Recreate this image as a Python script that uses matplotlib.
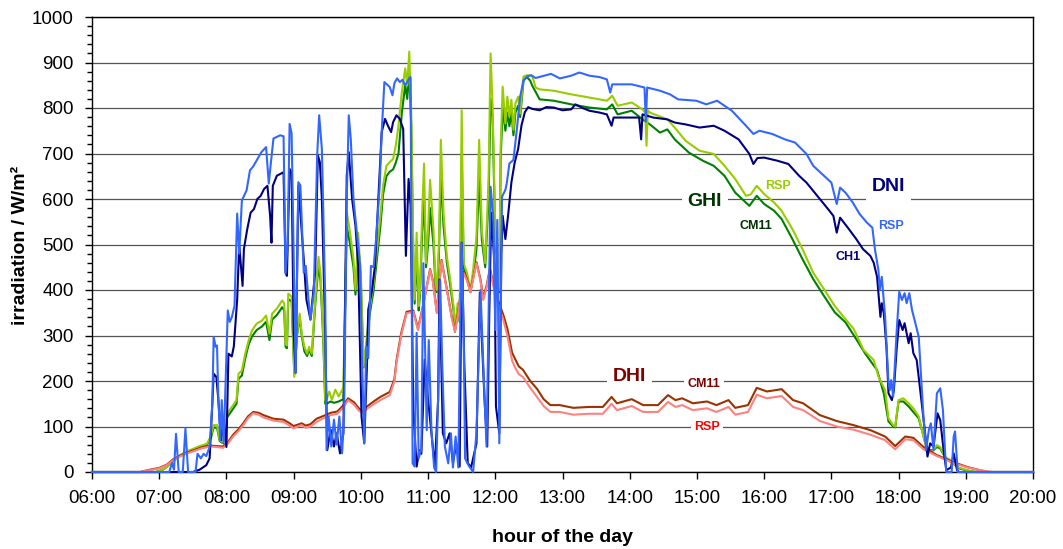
import matplotlib
matplotlib.use("Agg")
import matplotlib.pyplot as plt
from matplotlib.ticker import MultipleLocator

plt.rcParams['font.family'] = ['Liberation Sans', 'DejaVu Sans']

# (hour of day, W/m²)
dni_rsp = [(6.00, 0), (7.15, 0), (7.19, 20), (7.22, 5), (7.25, 84), (7.29, 0), (7.35, 0), (7.39, 95),
           (7.43, 0), (7.54, 0), (7.57, 40), (7.62, 30), (7.66, 40), (7.70, 35), (7.75, 55), (7.79, 150),
           (7.81, 297), (7.84, 275), (7.86, 278), (7.88, 160), (7.91, 70), (7.93, 158), (7.96, 62),
           (8.02, 355), (8.05, 330), (8.08, 340), (8.12, 365), (8.16, 568), (8.19, 480), (8.23, 597),
           (8.30, 619), (8.35, 663), (8.40, 672), (8.45, 685), (8.52, 703), (8.59, 714), (8.63, 634),
           (8.66, 678), (8.70, 733), (8.80, 740), (8.85, 738), (8.88, 436), (8.91, 500), (8.94, 765),
           (8.97, 744), (9.03, 218), (9.07, 637), (9.10, 630), (9.15, 438), (9.18, 453), (9.22, 380),
           (9.25, 335), (9.30, 394), (9.35, 696), (9.38, 784), (9.42, 710), (9.47, 379), (9.49, 48),
           (9.52, 122), (9.56, 56), (9.60, 115), (9.64, 60), (9.68, 122), (9.72, 41), (9.75, 122),
           (9.79, 600), (9.82, 784), (9.85, 732), (9.89, 600), (9.94, 526), (9.99, 453), (10.02, 232),
           (10.05, 63), (10.08, 276), (10.11, 250), (10.15, 453), (10.19, 450), (10.23, 519),
           (10.28, 629), (10.31, 747), (10.35, 857), (10.40, 850), (10.43, 846), (10.47, 828),
           (10.50, 855), (10.54, 865), (10.58, 857), (10.62, 862), (10.66, 850), (10.70, 860),
           (10.74, 868), (10.77, 19), (10.80, 12), (10.83, 306), (10.86, 30), (10.90, 50), (10.93, 459),
           (10.96, 239), (10.98, 92), (11.01, 290), (11.05, 92), (11.09, 10), (11.12, 0), (11.15, 166),
           (11.18, 422), (11.21, 239), (11.25, 56), (11.30, 19), (11.34, 85), (11.37, 10), (11.41, 78),
           (11.45, 10), (11.47, 239), (11.50, 503), (11.53, 300), (11.55, 30), (11.60, 15), (11.67, 0),
           (11.72, 85), (11.78, 400), (11.83, 202), (11.87, 56), (11.93, 627), (11.97, 561),
           (12.00, 312), (12.03, 554), (12.06, 63), (12.10, 605), (12.15, 620), (12.17, 634),
           (12.21, 678), (12.27, 686), (12.32, 752), (12.37, 825), (12.42, 861), (12.47, 869),
           (12.53, 872), (12.60, 866), (12.70, 870), (12.83, 875), (12.96, 865), (13.13, 871),
           (13.25, 878), (13.40, 871), (13.55, 868), (13.66, 863), (13.71, 834), (13.74, 852),
           (14.03, 852), (14.22, 845), (14.24, 770), (14.26, 845), (14.45, 838), (14.60, 830),
           (14.72, 819), (14.99, 816), (15.14, 808), (15.30, 816), (15.52, 794), (15.73, 761),
           (15.84, 743), (15.93, 750), (16.12, 743), (16.31, 731), (16.46, 724), (16.63, 699),
           (16.73, 673), (16.84, 658), (17.00, 636), (17.08, 589), (17.13, 625), (17.21, 614),
           (17.32, 592), (17.42, 567), (17.53, 548), (17.61, 537), (17.65, 488), (17.70, 444),
           (17.72, 400), (17.75, 429), (17.80, 341), (17.85, 195), (17.87, 180), (17.89, 202),
           (17.92, 166), (17.97, 305), (18.01, 396), (18.05, 378), (18.09, 393), (18.12, 371),
           (18.16, 393), (18.20, 356), (18.25, 327), (18.30, 297), (18.34, 195), (18.37, 122),
           (18.41, 48), (18.45, 92), (18.48, 107), (18.52, 48), (18.57, 173), (18.62, 184),
           (18.66, 136), (18.69, 48), (18.71, 0), (18.79, 0), (18.82, 78), (18.84, 89), (18.88, 0),
           (20.00, 0)]

dni_ch1 = [(6.00, 0), (7.50, 0), (7.60, 5), (7.70, 15), (7.75, 30), (7.79, 150), (7.81, 216),
           (7.85, 209), (7.88, 158), (7.92, 70), (7.96, 114), (8.00, 55), (8.03, 260), (8.08, 254),
           (8.11, 276), (8.16, 379), (8.19, 500), (8.24, 409), (8.26, 490), (8.31, 534), (8.36, 570),
           (8.41, 578), (8.46, 600), (8.51, 607), (8.56, 622), (8.61, 629), (8.65, 563), (8.67, 504),
           (8.69, 629), (8.75, 651), (8.80, 655), (8.85, 659), (8.88, 438), (8.90, 431), (8.94, 666),
           (8.97, 659), (9.00, 306), (9.03, 218), (9.07, 629), (9.10, 570), (9.15, 468), (9.19, 379),
           (9.22, 357), (9.25, 335), (9.28, 379), (9.32, 438), (9.36, 696), (9.39, 681), (9.42, 600),
           (9.47, 306), (9.50, 48), (9.55, 93), (9.60, 56), (9.64, 85), (9.69, 41), (9.74, 85),
           (9.79, 651), (9.82, 703), (9.87, 600), (9.92, 541), (9.96, 453), (10.01, 122), (10.05, 63),
           (10.09, 232), (10.11, 357), (10.16, 394), (10.21, 453), (10.26, 600), (10.31, 747),
           (10.36, 776), (10.40, 762), (10.45, 747), (10.48, 769), (10.53, 784), (10.58, 776),
           (10.63, 754), (10.67, 475), (10.71, 644), (10.74, 585), (10.78, 137), (10.83, 12),
           (10.87, 48), (10.90, 40), (10.95, 247), (11.00, 159), (11.05, 85), (11.10, 12),
           (11.15, 159), (11.17, 423), (11.22, 85), (11.27, 63), (11.32, 85), (11.37, 20), (11.42, 63),
           (11.47, 12), (11.50, 504), (11.54, 232), (11.59, 20), (11.64, 10), (11.72, 63), (11.77, 394),
           (11.84, 159), (11.88, 56), (11.91, 343), (11.94, 570), (11.99, 453), (12.01, 144),
           (12.06, 85), (12.09, 482), (12.11, 563), (12.15, 512), (12.19, 563), (12.24, 637),
           (12.29, 681), (12.34, 710), (12.39, 762), (12.44, 791), (12.49, 802), (12.55, 798),
           (12.66, 795), (12.76, 802), (12.87, 801), (13.00, 795), (13.13, 797), (13.19, 808),
           (13.30, 800), (13.40, 794), (13.55, 790), (13.66, 786), (13.73, 761), (13.76, 779),
           (14.14, 779), (14.17, 731), (14.19, 786), (14.35, 779), (14.56, 775), (14.67, 768),
           (14.83, 764), (15.04, 757), (15.25, 761), (15.41, 750), (15.62, 731), (15.78, 699),
           (15.84, 677), (15.90, 690), (16.00, 691), (16.20, 684), (16.36, 677), (16.52, 651),
           (16.63, 636), (16.79, 607), (16.95, 578), (17.03, 563), (17.08, 526), (17.13, 559),
           (17.26, 534), (17.37, 512), (17.47, 490), (17.58, 475), (17.63, 460), (17.68, 429),
           (17.73, 341), (17.75, 371), (17.78, 349), (17.82, 275), (17.85, 173), (17.90, 158),
           (17.93, 180), (17.97, 268), (18.01, 334), (18.06, 312), (18.09, 327), (18.15, 283),
           (18.18, 305), (18.22, 261), (18.27, 246), (18.31, 195), (18.35, 144), (18.40, 78),
           (18.43, 34), (18.47, 63), (18.52, 56), (18.58, 129), (18.62, 114), (18.67, 48), (18.71, 4),
           (18.78, 10), (18.82, 41), (18.87, 4), (18.90, 0), (20.00, 0)]

ghi_rsp = [(6.00, 0), (6.95, 0), (7.05, 5), (7.11, 11), (7.20, 25), (7.31, 37), (7.40, 45), (7.51, 51),
           (7.60, 57), (7.71, 62), (7.77, 80), (7.81, 103), (7.86, 103), (7.90, 70), (7.94, 66),
           (7.97, 75), (8.01, 128), (8.08, 143), (8.15, 158), (8.18, 216), (8.23, 223), (8.28, 260),
           (8.33, 289), (8.38, 311), (8.45, 326), (8.53, 333), (8.59, 344), (8.64, 304), (8.68, 348),
           (8.75, 359), (8.83, 377), (8.86, 370), (8.88, 282), (8.90, 278), (8.92, 392), (8.97, 385),
           (9.01, 209), (9.05, 304), (9.09, 348), (9.12, 304), (9.16, 275), (9.20, 260), (9.23, 275),
           (9.27, 260), (9.32, 377), (9.37, 473), (9.40, 436), (9.44, 304), (9.47, 158), (9.49, 159),
           (9.53, 177), (9.57, 159), (9.62, 181), (9.67, 166), (9.74, 185), (9.79, 571), (9.84, 526),
           (9.89, 468), (9.92, 401), (9.96, 526), (10.00, 431), (10.04, 232), (10.08, 284),
           (10.13, 357), (10.19, 416), (10.24, 490), (10.29, 563), (10.33, 629), (10.38, 673),
           (10.43, 681), (10.48, 688), (10.52, 718), (10.56, 762), (10.61, 835), (10.66, 887),
           (10.69, 850), (10.72, 924), (10.75, 784), (10.78, 490), (10.80, 379), (10.83, 526),
           (10.86, 365), (10.88, 400), (10.91, 560), (10.94, 678), (10.97, 459), (11.00, 532),
           (11.03, 642), (11.08, 532), (11.11, 420), (11.13, 400), (11.16, 495), (11.19, 730),
           (11.23, 568), (11.28, 473), (11.33, 422), (11.38, 363), (11.40, 312), (11.44, 371),
           (11.47, 334), (11.50, 795), (11.53, 459), (11.58, 437), (11.63, 400), (11.67, 444),
           (11.72, 517), (11.76, 730), (11.80, 532), (11.85, 459), (11.90, 642), (11.93, 920),
           (11.96, 803), (12.00, 532), (12.03, 459), (12.06, 400), (12.08, 715), (12.11, 847),
           (12.15, 766), (12.18, 825), (12.21, 781), (12.24, 818), (12.27, 752), (12.30, 810),
           (12.34, 825), (12.37, 788), (12.42, 869), (12.47, 872), (12.55, 871), (12.60, 845),
           (12.66, 841), (12.87, 838), (13.13, 830), (13.40, 823), (13.66, 816), (13.74, 827),
           (13.82, 805), (14.03, 812), (14.19, 797), (14.23, 790), (14.25, 717), (14.27, 795),
           (14.30, 790), (14.56, 775), (14.67, 757), (14.83, 728), (15.04, 706), (15.25, 699),
           (15.41, 673), (15.57, 644), (15.73, 607), (15.80, 610), (15.89, 629), (16.00, 611),
           (16.15, 592), (16.26, 574), (16.42, 534), (16.57, 490), (16.73, 438), (16.89, 402),
           (17.05, 365), (17.21, 336), (17.33, 315), (17.48, 268), (17.63, 246), (17.70, 210),
           (17.75, 195), (17.80, 180), (17.85, 118), (17.92, 103), (17.95, 100), (18.00, 158),
           (18.07, 162), (18.15, 151), (18.22, 140), (18.30, 122), (18.37, 78), (18.42, 48),
           (18.50, 45), (18.57, 59), (18.62, 55), (18.69, 34), (18.77, 26), (18.87, 11), (19.02, 4),
           (19.15, 0), (20.00, 0)]

ghi_cm11 = [(6.00, 0), (6.95, 0), (7.05, 5), (7.11, 11), (7.20, 24), (7.31, 36), (7.40, 44),
            (7.51, 50), (7.60, 55), (7.71, 60), (7.77, 75), (7.81, 98), (7.86, 97), (7.90, 68),
            (7.94, 64), (7.97, 72), (8.01, 120), (8.08, 135), (8.15, 150), (8.18, 205), (8.23, 212),
            (8.28, 250), (8.33, 280), (8.38, 298), (8.45, 312), (8.53, 320), (8.59, 330), (8.64, 290),
            (8.68, 335), (8.75, 345), (8.83, 362), (8.86, 355), (8.88, 275), (8.90, 272), (8.92, 380),
            (8.97, 375), (9.01, 215), (9.05, 300), (9.09, 340), (9.12, 300), (9.16, 265), (9.20, 255),
            (9.23, 268), (9.27, 255), (9.32, 365), (9.37, 455), (9.40, 420), (9.44, 295), (9.47, 150),
            (9.49, 150), (9.55, 155), (9.60, 152), (9.67, 155), (9.74, 160), (9.79, 540), (9.84, 500),
            (9.89, 450), (9.92, 390), (9.96, 500), (10.00, 420), (10.04, 230), (10.08, 275),
            (10.13, 345), (10.19, 400), (10.24, 470), (10.29, 540), (10.33, 610), (10.38, 650),
            (10.43, 660), (10.48, 665), (10.52, 680), (10.56, 700), (10.61, 790), (10.66, 850),
            (10.69, 820), (10.72, 880), (10.75, 760), (10.78, 470), (10.80, 370), (10.83, 480),
            (10.86, 355), (10.88, 390), (10.91, 520), (10.94, 600), (10.97, 450), (11.00, 500),
            (11.03, 580), (11.08, 500), (11.11, 410), (11.13, 395), (11.16, 470), (11.19, 650),
            (11.23, 540), (11.28, 460), (11.33, 410), (11.38, 355), (11.40, 308), (11.44, 360),
            (11.47, 330), (11.50, 700), (11.53, 450), (11.58, 425), (11.63, 395), (11.67, 430),
            (11.72, 490), (11.76, 650), (11.80, 510), (11.85, 450), (11.90, 600), (11.93, 820),
            (11.96, 780), (12.00, 510), (12.03, 450), (12.06, 395), (12.08, 690), (12.11, 800),
            (12.15, 750), (12.18, 790), (12.21, 760), (12.24, 790), (12.27, 740), (12.30, 790),
            (12.34, 805), (12.37, 780), (12.42, 860), (12.47, 868), (12.52, 860), (12.55, 849),
            (12.66, 819), (12.87, 816), (13.13, 808), (13.40, 801), (13.66, 797), (13.74, 808),
            (13.82, 786), (14.03, 794), (14.19, 775), (14.30, 764), (14.45, 746), (14.56, 753),
            (14.67, 731), (14.88, 702), (15.09, 684), (15.25, 673), (15.41, 651), (15.57, 614),
            (15.78, 585), (15.89, 607), (16.00, 589), (16.15, 574), (16.26, 556), (16.42, 512),
            (16.57, 468), (16.73, 424), (16.89, 387), (17.05, 351), (17.21, 329), (17.37, 292),
            (17.50, 261), (17.68, 224), (17.78, 173), (17.85, 111), (17.92, 100), (17.95, 98),
            (18.00, 155), (18.07, 155), (18.15, 144), (18.22, 132), (18.30, 118), (18.40, 63),
            (18.45, 48), (18.52, 48), (18.57, 55), (18.62, 52), (18.70, 30), (18.80, 20), (18.90, 8),
            (19.05, 2), (19.15, 0), (20.00, 0)]

dhi_rsp = [(6.00, 0), (6.72, 0), (6.80, 3), (6.86, 4), (7.00, 8), (7.11, 15), (7.20, 25), (7.31, 34),
           (7.40, 40), (7.50, 45), (7.63, 52), (7.76, 56), (7.85, 55), (7.95, 53), (8.02, 62),
           (8.10, 78), (8.18, 90), (8.25, 103), (8.32, 118), (8.40, 129), (8.48, 126), (8.55, 120),
           (8.70, 113), (8.85, 110), (8.93, 103), (9.00, 96), (9.06, 100), (9.12, 103), (9.18, 97),
           (9.25, 100), (9.34, 110), (9.44, 118), (9.55, 125), (9.65, 128), (9.73, 140), (9.81, 158),
           (9.90, 148), (9.97, 135), (10.03, 129), (10.10, 140), (10.20, 150), (10.29, 158),
           (10.38, 165), (10.43, 169), (10.50, 200), (10.53, 240), (10.60, 300), (10.68, 349),
           (10.78, 352), (10.85, 312), (10.92, 360), (11.03, 444), (11.07, 420), (11.13, 349),
           (11.20, 464), (11.28, 400), (11.35, 340), (11.40, 308), (11.45, 350), (11.53, 437),
           (11.58, 420), (11.63, 395), (11.72, 459), (11.78, 420), (11.82, 378), (11.87, 405),
           (11.92, 444), (11.97, 410), (12.02, 380), (12.12, 334), (12.18, 300), (12.25, 245),
           (12.29, 231), (12.35, 215), (12.41, 209), (12.52, 185), (12.62, 165), (12.72, 145),
           (12.82, 132), (12.96, 132), (13.16, 126), (13.40, 128), (13.60, 128), (13.73, 150),
           (13.81, 136), (14.03, 145), (14.20, 132), (14.42, 132), (14.57, 154), (14.68, 143),
           (14.78, 147), (14.94, 136), (15.15, 140), (15.29, 132), (15.47, 143), (15.57, 126),
           (15.76, 132), (15.89, 170), (16.04, 162), (16.13, 164), (16.26, 167), (16.43, 143),
           (16.58, 136), (16.83, 112), (17.08, 100), (17.33, 93), (17.58, 82), (17.80, 70),
           (17.95, 50), (18.10, 72), (18.22, 70), (18.37, 50), (18.57, 35), (18.81, 20), (19.02, 10),
           (19.21, 4), (19.40, 0), (20.00, 0)]

dhi_cm11 = [(6.00, 0), (6.72, 0), (6.80, 3), (6.86, 5), (7.00, 9), (7.11, 16), (7.20, 27), (7.31, 36),
            (7.40, 42), (7.50, 47), (7.63, 54), (7.76, 58), (7.85, 57), (7.95, 56), (8.02, 65),
            (8.10, 82), (8.18, 94), (8.25, 107), (8.32, 122), (8.40, 132), (8.48, 130), (8.55, 125),
            (8.70, 117), (8.85, 115), (8.93, 108), (9.00, 101), (9.06, 104), (9.12, 107), (9.18, 102),
            (9.25, 105), (9.34, 117), (9.44, 123), (9.55, 130), (9.65, 133), (9.73, 145), (9.81, 162),
            (9.90, 153), (9.97, 140), (10.03, 133), (10.10, 145), (10.20, 156), (10.29, 165),
            (10.38, 172), (10.43, 176), (10.50, 205), (10.53, 245), (10.60, 305), (10.68, 352),
            (10.78, 355), (10.85, 315), (10.92, 362), (11.03, 446), (11.07, 422), (11.13, 352),
            (11.20, 466), (11.28, 402), (11.35, 343), (11.40, 312), (11.45, 354), (11.53, 440),
            (11.58, 423), (11.63, 398), (11.72, 461), (11.78, 423), (11.82, 382), (11.87, 409),
            (11.92, 447), (11.97, 415), (12.02, 386), (12.12, 345), (12.18, 315), (12.25, 262),
            (12.29, 250), (12.35, 232), (12.41, 225), (12.52, 200), (12.62, 183), (12.72, 160),
            (12.82, 147), (12.96, 147), (13.16, 141), (13.40, 143), (13.60, 143), (13.73, 165),
            (13.81, 151), (14.03, 160), (14.20, 147), (14.42, 147), (14.57, 169), (14.68, 158),
            (14.78, 162), (14.94, 151), (15.15, 155), (15.29, 147), (15.47, 158), (15.57, 141),
            (15.76, 147), (15.89, 185), (16.04, 177), (16.13, 179), (16.26, 182), (16.43, 158),
            (16.58, 151), (16.83, 125), (17.08, 112), (17.33, 103), (17.58, 92), (17.80, 78),
            (17.95, 57), (18.10, 78), (18.22, 75), (18.37, 55), (18.57, 37), (18.81, 22), (19.02, 11),
            (19.21, 4), (19.33, 0), (20.00, 0)]

hours = list(range(6, 21))
hour_labels = ["%02d:00" % h for h in hours]

fig = plt.figure(figsize=(10.63, 5.49), dpi=100)
ax = fig.add_axes([92 / 1063, 1 - 472 / 549, (1033 - 92) / 1063, (472 - 17) / 549])

series = [
    (ghi_cm11, '#008000'),
    (ghi_rsp, '#99CC00'),
    (dhi_cm11, '#993300'),
    (dhi_rsp, '#FF8080'),
    (dni_ch1, '#000080'),
    (dni_rsp, '#3366FF'),
]
for data, col in series:
    t = [p[0] for p in data]
    v = [p[1] for p in data]
    ax.plot(t, v, color=col, lw=1.5, solid_joinstyle='round', zorder=3, clip_on=False)

ax.set_xlim(6, 20)
ax.set_ylim(0, 1000)
ax.set_xticks(hours)
ax.set_xticklabels(hour_labels)
ax.yaxis.set_major_locator(MultipleLocator(100))
ax.yaxis.set_minor_locator(MultipleLocator(20))
ax.tick_params(axis='both', which='major', direction='out', length=5, width=1,
               labelsize=13.5, pad=8, color='black')
ax.tick_params(axis='y', which='minor', direction='out', length=3.5, width=1)
ax.grid(axis='y', which='major', color='#555555', lw=0.9, zorder=1)
for s in ax.spines.values():
    s.set_color('black')
    s.set_linewidth(1.0)

fig.text(21 / 1063, 1 - 245 / 549, 'irradiation / W/m²', rotation=90, ha='center', va='center',
         fontsize=14, fontweight='bold')
fig.text(562 / 1063, 1 - 537 / 549, 'hour of the day', ha='center', va='center',
         fontsize=14, fontweight='bold')

box = dict(facecolor='white', edgecolor='none', pad=2)
labels = [
    ('DNI', 17.85, 627, '#000080', 14),
    ('RSP', 17.88, 541, '#3366FF', 9),
    ('CH1', 17.25, 473, '#000080', 9),
    ('GHI', 15.12, 595, '#003300', 14),
    ('RSP', 16.20, 629, '#99CC00', 9),
    ('CM11', 15.88, 541, '#003300', 9),
    ('DHI', 14.00, 209, '#800000', 14),
    ('CM11', 15.11, 193, '#800000', 9),
    ('RSP', 15.15, 98, '#FF0000', 9),
]
for txt, x, y, col, fs in labels:
    ax.text(x, y, txt, color=col, fontsize=fs, fontweight='bold', ha='center', va='center',
            bbox=dict(box, pad=4 if fs > 10 else 2.5), zorder=2)

fig.savefig('out.png', dpi=100)
